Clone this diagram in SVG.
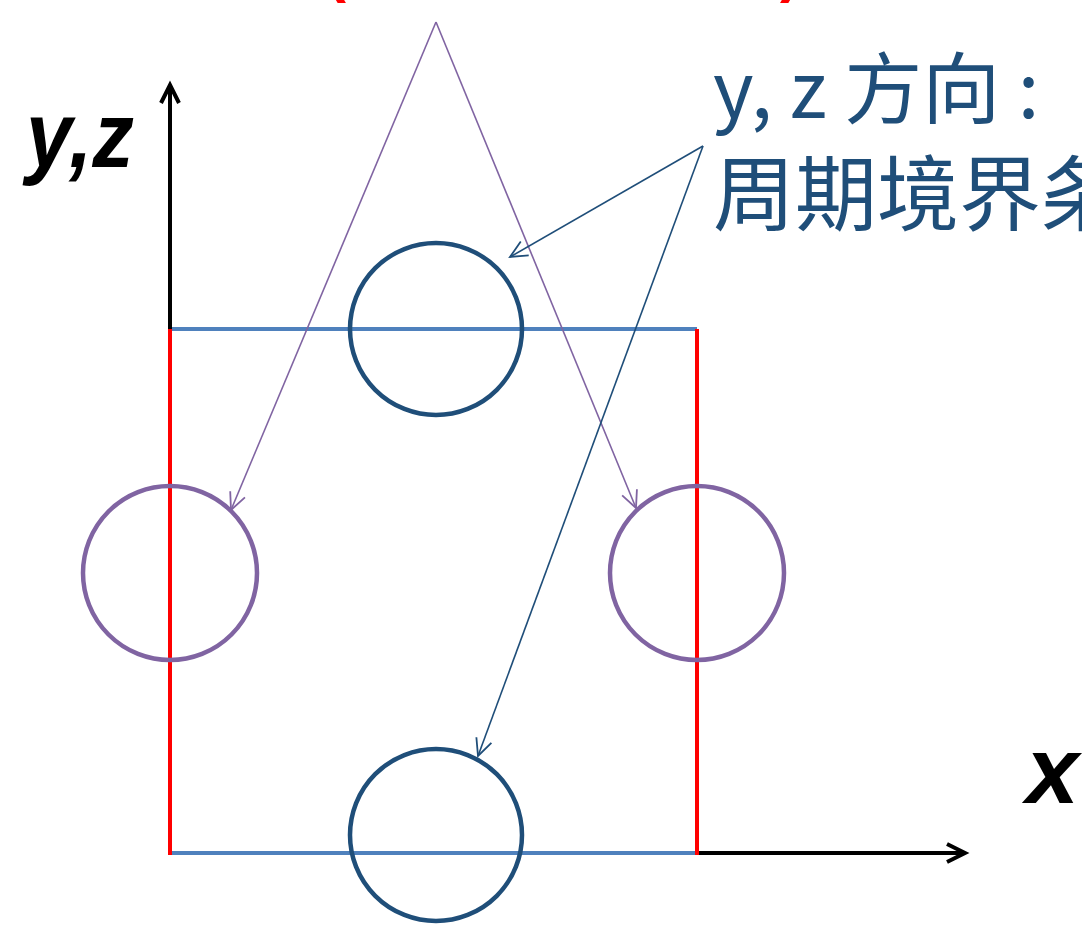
<svg xmlns="http://www.w3.org/2000/svg" width="1082" height="928" viewBox="0 0 1082 928">
<style>
.ax{stroke:#000;stroke-width:4;fill:none}
.bl{stroke:#4f81bd;stroke-width:4;fill:none}
.rd{stroke:#ff0000;stroke-width:4;fill:none}
.cb{stroke:#1f4e79;stroke-width:4.5;fill:none}
.cp{stroke:#8064a2;stroke-width:4.5;fill:none}
.ap{stroke:#8064a2;stroke-width:1.6;fill:none}
.ab{stroke:#1f4e79;stroke-width:1.6;fill:none}
.lbl{font-family:"Noto Sans CJK TC","Noto Sans",sans-serif;fill:#1f4e79}
.axl{font-family:"Liberation Sans",Arial,sans-serif;font-style:italic;font-weight:bold;fill:#000}
.red{font-family:"Liberation Sans",Arial,sans-serif;font-weight:bold;fill:#ff0000;font-size:60px}
</style>
<defs>
<marker id="mk" markerUnits="userSpaceOnUse" markerWidth="30" markerHeight="30" refX="20" refY="12" orient="auto" overflow="visible">
<path d="M2,3 L20,12 L2,21" fill="none" stroke="#000" stroke-width="4" stroke-linejoin="miter"/>
</marker>
<marker id="mp" markerUnits="userSpaceOnUse" markerWidth="24" markerHeight="24" refX="18" refY="9" orient="auto" overflow="visible">
<path d="M1,1 L18,9 L1,17" fill="none" stroke="#8064a2" stroke-width="1.8"/>
</marker>
<marker id="mb" markerUnits="userSpaceOnUse" markerWidth="24" markerHeight="24" refX="18" refY="9" orient="auto" overflow="visible">
<path d="M1,1 L18,9 L1,17" fill="none" stroke="#1f4e79" stroke-width="1.8"/>
</marker>
</defs>

<g id="top-red-text">
<text class="red" x="326" y="-9">(</text>
<text class="red" x="518" y="-10">,</text>
<text class="red" x="780" y="-9">)</text>
</g>

<g id="axes">
<line class="ax" x1="170" y1="331" x2="170" y2="85" marker-end="url(#mk)"/>
<line class="ax" x1="697" y1="853" x2="965" y2="853" marker-end="url(#mk)"/>
<text class="axl" x="26" y="167" font-size="92" textLength="108" lengthAdjust="spacingAndGlyphs">y,z</text>
<text class="axl" x="1026" y="803" font-size="95">x</text>
</g>

<g id="box">
<line class="bl" x1="172" y1="329" x2="697" y2="329"/>
<line class="bl" x1="170" y1="853" x2="697" y2="853"/>
<line class="rd" x1="170" y1="329" x2="170" y2="855"/>
<line class="rd" x1="697" y1="329" x2="697" y2="855"/>
</g>

<g id="circle-top"><circle class="cb" cx="436" cy="329" r="86"/></g>
<g id="circle-bottom"><circle class="cb" cx="436" cy="835" r="86"/></g>
<g id="circle-left"><circle class="cp" cx="170" cy="573" r="87"/></g>
<g id="circle-right"><circle class="cp" cx="697" cy="573" r="87"/></g>

<g id="label-yz">
<text class="lbl" x="713" y="118" font-size="78">y, z 方向 :</text>
<text class="lbl" x="713" y="224" font-size="82">周期境界条件</text>
</g>

<g id="connectors">
<line class="ap" x1="436" y1="22" x2="231" y2="510" marker-end="url(#mp)"/>
<line class="ap" x1="436" y1="22" x2="636" y2="508" marker-end="url(#mp)"/>
<line class="ab" x1="703" y1="146" x2="510" y2="257" marker-end="url(#mb)"/>
<line class="ab" x1="703" y1="146" x2="478" y2="756" marker-end="url(#mb)"/>
</g>
</svg>
